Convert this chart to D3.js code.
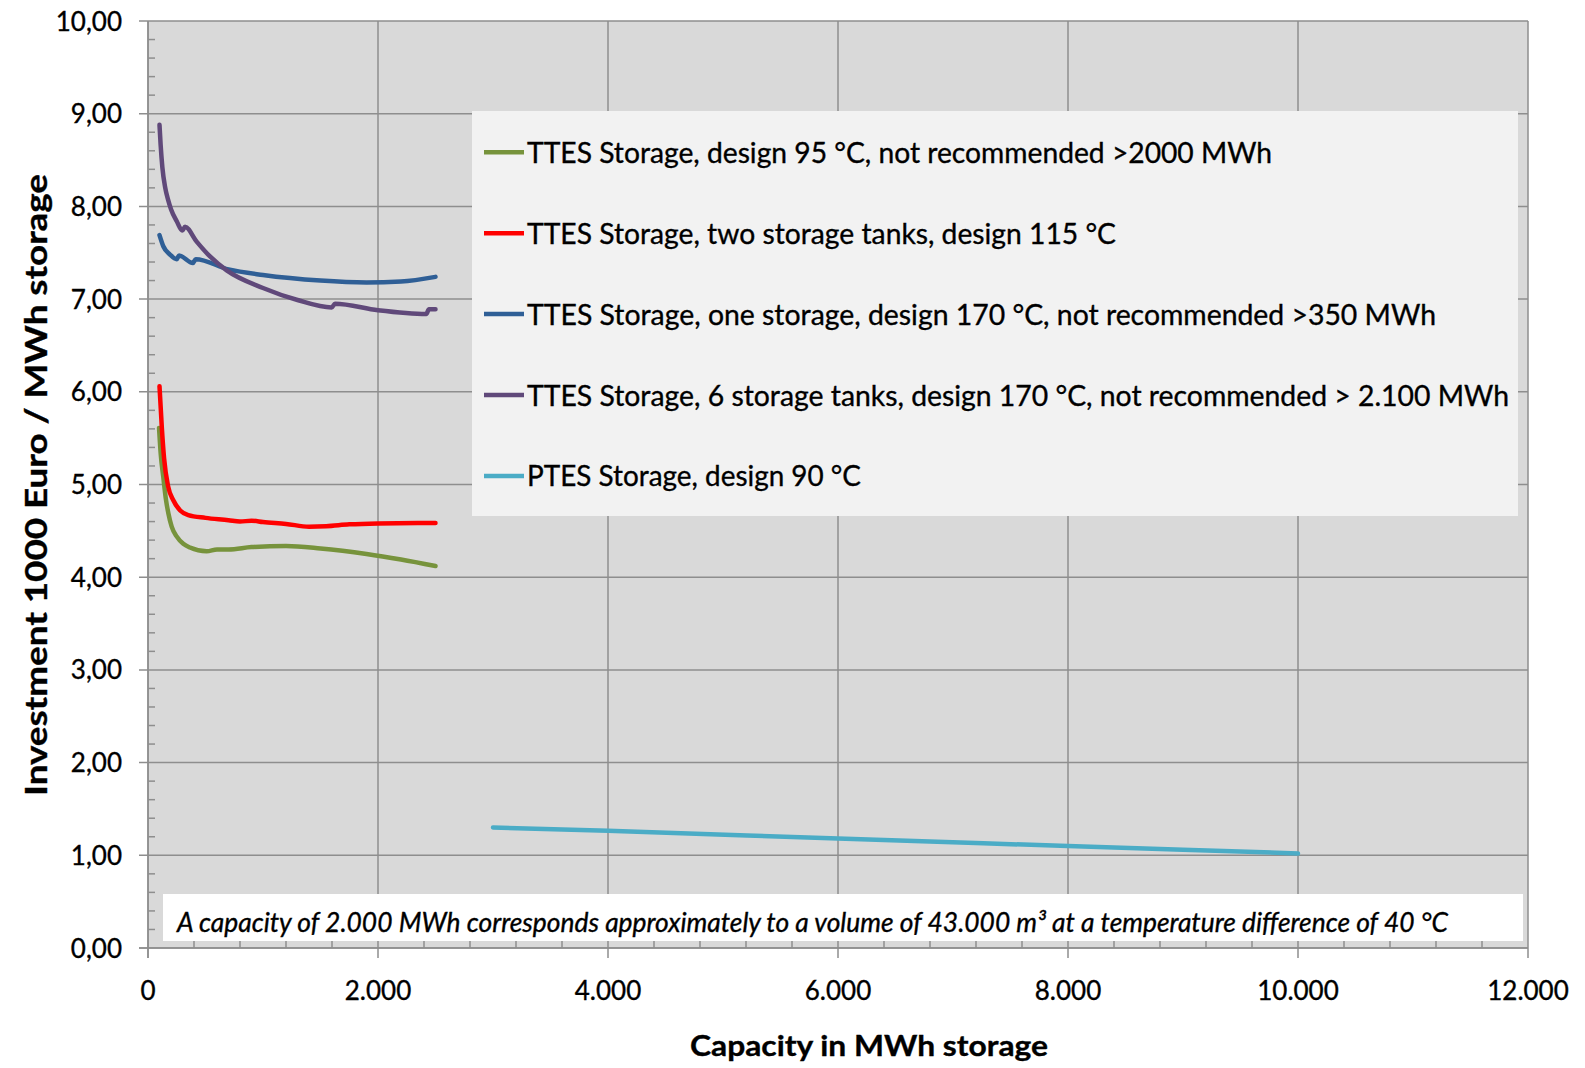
<!DOCTYPE html>
<html><head><meta charset="utf-8">
<script src="https://cdn.jsdelivr.net/npm/d3@7"></script>
<style>
body{margin:0;background:#fff}
text{font-family:Lato,"Open Sans",sans-serif;fill:#000;stroke:#000;stroke-width:0.35px}
</style>
</head><body>
<svg id="chart" width="1585" height="1068"></svg>
<script>
// ---------- DATA ----------
const seriesNames = [
  "TTES Storage, design 95 °C, not recommended >2000 MWh",
  "TTES Storage, two storage tanks, design 115 °C",
  "TTES Storage, one storage, design 170 °C, not recommended >350 MWh",
  "TTES Storage, 6 storage tanks, design 170 °C, not recommended > 2.100 MWh",
  "PTES Storage, design 90 °C"
];
const ttes95X  = [96, 110, 133, 157, 177, 206, 249, 307, 365, 510, 600, 700, 900, 1200, 1500, 1900, 2200, 2500];
const ttes95Y  = [5.61, 5.34, 5.08, 4.83, 4.69, 4.545, 4.44, 4.36, 4.32, 4.28, 4.30, 4.30, 4.325, 4.337, 4.31, 4.25, 4.19, 4.12];
const ttes115X = [100, 120, 140, 175, 220, 280, 350, 500, 700, 800, 900, 1000, 1200, 1400, 1550, 1750, 2000, 2500];
const ttes115Y = [6.06, 5.62, 5.28, 4.98, 4.83, 4.72, 4.67, 4.64, 4.615, 4.60, 4.61, 4.595, 4.575, 4.545, 4.55, 4.57, 4.58, 4.585];
const ttes170X = [100, 133, 191, 250, 270, 390, 415, 700, 1000, 1500, 1900, 2200, 2500];
const ttes170Y = [7.69, 7.57, 7.48, 7.43, 7.47, 7.39, 7.43, 7.32, 7.26, 7.20, 7.18, 7.19, 7.24];
const ttes6X   = [100, 110, 125, 150, 175, 200, 250, 298, 322, 423, 539, 684, 1000, 1300, 1597, 1626, 2000, 2420, 2443, 2500];
const ttes6Y   = [8.88, 8.66, 8.42, 8.20, 8.07, 7.97, 7.84, 7.74, 7.78, 7.62, 7.46, 7.31, 7.12, 6.99, 6.91, 6.95, 6.88, 6.84, 6.89, 6.89];
const ptesX    = [3000, 4000, 6000, 8000, 10000];
const ptesY    = [1.30, 1.265, 1.18, 1.10, 1.02];
const xTickValues = [0, 2000, 4000, 6000, 8000, 10000, 12000];
const yTickValues = [0, 1, 2, 3, 4, 5, 6, 7, 8, 9, 10];
const xTitle = "Capacity in MWh storage";
const yTitle = "Investment 1000 Euro / MWh storage";
const noteText = "A capacity of 2.000 MWh corresponds approximately to a volume of 43.000 m³ at a temperature difference of 40 °C";

// ---------- STYLE / LAYOUT ----------
const colors = ["#77933c", "#ff0000", "#2f5f96", "#60497a", "#4bacc6"];
const L = {left:148, right:1528, top:21, bottom:948};
const gridColor = "#8e8e8e";
const legendBox = {x:472, y:111, w:1046, h:405, rowY0:152.3, rowStep:80.9, lineX1:484, lineX2:524, textX:527};
const legendWidths = [745, 589, 909, 982, 334];
const noteBox = {x:163, y:894, w:1360, h:47, textX:177, baseline:932, textW:1271};

const svg = d3.select("#chart");
const locale = d3.formatLocale({decimal:",", thousands:".", grouping:[3], currency:["","€"]});
const fx = locale.format(",d"), fy = locale.format(".2f");

const x = d3.scaleLinear().domain([0, 12000]).range([L.left, L.right]);
const y = d3.scaleLinear().domain([0, 10]).range([L.bottom, L.top]);

function fit(sel, target){
  const n = sel.node().getComputedTextLength();
  if (Math.abs(n - target) > 1.5) sel.attr("textLength", target).attr("lengthAdjust", "spacingAndGlyphs");
}

svg.append("rect").attr("width",1585).attr("height",1068).attr("fill","#fff");
// plot area
svg.append("rect").attr("x",L.left).attr("y",L.top).attr("width",L.right-L.left).attr("height",L.bottom-L.top).attr("fill","#d9d9d9");

// horizontal gridlines + major y ticks (outward)
svg.append("g").selectAll("line").data(yTickValues).join("line")
  .attr("x1", L.left-9).attr("x2", L.right)
  .attr("y1", d=>y(d)).attr("y2", d=>y(d))
  .attr("stroke", gridColor).attr("stroke-width", 1.5);
// vertical gridlines + major x ticks (outward)
svg.append("g").selectAll("line").data(xTickValues).join("line")
  .attr("x1", d=>x(d)).attr("x2", d=>x(d))
  .attr("y1", L.top).attr("y2", L.bottom+10)
  .attr("stroke", gridColor).attr("stroke-width", 1.5);

// series
const series = [
  [ttes95X, ttes95Y], [ttes115X, ttes115Y], [ttes170X, ttes170Y], [ttes6X, ttes6Y], [ptesX, ptesY]
];
const line = d3.line().x(d=>x(d[0])).y(d=>y(d[1])).curve(d3.curveMonotoneX);
series.forEach((s,i)=>{
  const pts = s[0].map((v,j)=>[v, s[1][j]]);
  svg.append("path").datum(pts).attr("d", line)
    .attr("fill","none").attr("stroke", colors[i]).attr("stroke-width", 4.5)
    .attr("stroke-linejoin","round").attr("stroke-linecap","round");
});

// legend
svg.append("rect").attr("x",legendBox.x).attr("y",legendBox.y).attr("width",legendBox.w).attr("height",legendBox.h).attr("fill","#f2f2f2");
seriesNames.forEach((name,i)=>{
  const cy = legendBox.rowY0 + i*legendBox.rowStep;
  svg.append("line").attr("x1",legendBox.lineX1).attr("x2",legendBox.lineX2).attr("y1",cy).attr("y2",cy)
    .attr("stroke",colors[i]).attr("stroke-width",4.5);
  const t = svg.append("text").attr("x",legendBox.textX).attr("y",cy+10.5).attr("font-size",29).text(name);
  fit(t, legendWidths[i]);
});

// note box
svg.append("rect").attr("x",noteBox.x).attr("y",noteBox.y).attr("width",noteBox.w).attr("height",noteBox.h).attr("fill","#fff");
const nt = svg.append("text").attr("x",noteBox.textX).attr("y",noteBox.baseline).attr("font-size",26.5).attr("font-style","italic").text(noteText);
fit(nt, noteBox.textW);

// minor ticks (inward)
const xMinor = d3.range(0, 12001, 400).filter(v=>v%2000!==0);
svg.append("g").selectAll("line").data(xMinor).join("line")
  .attr("x1",d=>x(d)).attr("x2",d=>x(d)).attr("y1",L.bottom).attr("y2",L.bottom-7)
  .attr("stroke",gridColor).attr("stroke-width",1.5);
const yMinor = d3.range(0, 50).map(i=>i*0.2).filter((v,i)=>i%5!==0);
svg.append("g").selectAll("line").data(yMinor).join("line")
  .attr("x1",L.left).attr("x2",L.left+7).attr("y1",d=>y(d)).attr("y2",d=>y(d))
  .attr("stroke",gridColor).attr("stroke-width",1.5);
// axis lines
svg.append("line").attr("x1",L.left).attr("x2",L.left).attr("y1",L.top).attr("y2",L.bottom+10).attr("stroke",gridColor).attr("stroke-width",1.5);
svg.append("line").attr("x1",L.left-9).attr("x2",L.right).attr("y1",L.bottom).attr("y2",L.bottom).attr("stroke",gridColor).attr("stroke-width",1.5);

// tick labels
svg.append("g").selectAll("text").data(yTickValues).join("text")
  .attr("x", 122).attr("y", d=>y(d)+9.5).attr("text-anchor","end").attr("font-size",26).text(d=>fy(d));
svg.append("g").selectAll("text").data(xTickValues).join("text")
  .attr("x", d=>x(d)).attr("y", 999.5).attr("text-anchor","middle").attr("font-size",26).text(d=>fx(d));

// axis titles
const xt = svg.append("text").attr("x",869).attr("y",1056).attr("text-anchor","middle").attr("font-size",29).attr("font-weight","bold").text(xTitle);
fit(xt, 358);
const yt = svg.append("text").attr("transform","translate(36,485) rotate(-90)").attr("y",11).attr("text-anchor","middle").attr("font-size",30).attr("font-weight","bold").text(yTitle);
fit(yt, 622);
</script>
</body></html>
